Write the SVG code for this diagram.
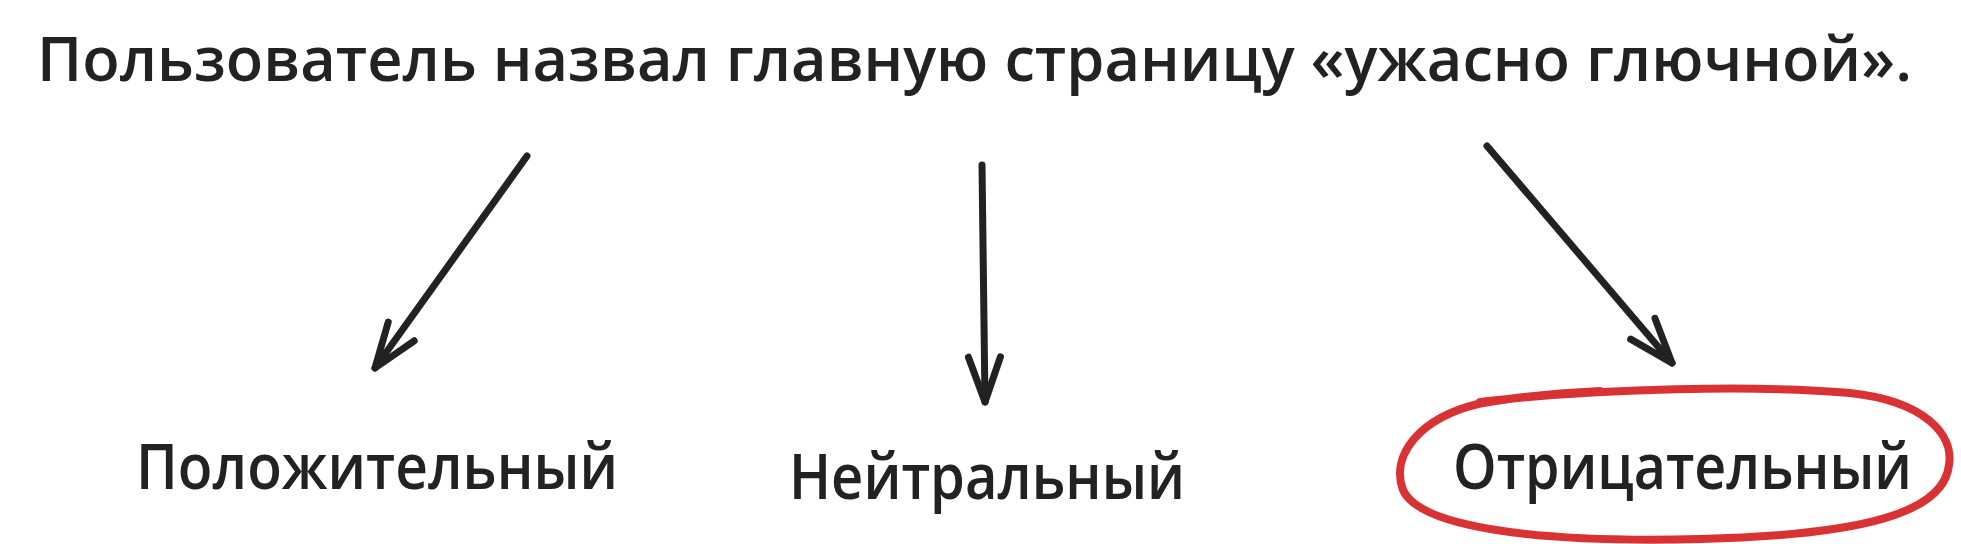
<svg xmlns="http://www.w3.org/2000/svg" width="1961" height="544" viewBox="0 0 1961 544">
  <style>
    .txt { font-family: "Open Sans", "Noto Sans", "DejaVu Sans", sans-serif; font-weight: 600; fill: #222222; }
    .title { font-size: 62px; }
    .label { font-size: 64px; }
    .conn { fill: none; stroke: #222222; stroke-width: 7; stroke-linecap: round; stroke-linejoin: round; }
    .ring { fill: none; stroke: #d93234; stroke-width: 8; stroke-linecap: round; stroke-linejoin: round; }
  </style>
  <defs>
    <marker id="head" markerUnits="userSpaceOnUse" orient="auto" refX="0" refY="0" markerWidth="60" markerHeight="40" overflow="visible">
      <path d="M -45 -16 L 0 0 L -45 16" fill="none" stroke="#222222" stroke-width="7" stroke-linecap="round" stroke-linejoin="round"/>
    </marker>
  </defs>
  <rect width="1961" height="544" fill="#ffffff"/>

  <g id="title">
    <text class="txt title" x="37" y="81" textLength="1875" lengthAdjust="spacingAndGlyphs">Пользователь назвал главную страницу «ужасно глючной».</text>
  </g>

  <g id="connectors">
    <path class="conn" d="M 527 156 L 375 368" marker-end="url(#head)"/>
    <path class="conn" d="M 982 165 L 985 402" marker-end="url(#head)"/>
    <path class="conn" d="M 1487 146 L 1672 363" marker-end="url(#head)"/>
  </g>

  <g id="label-positive">
    <text class="txt label" x="136" y="489" textLength="482" lengthAdjust="spacingAndGlyphs">Положительный</text>
  </g>

  <g id="label-neutral">
    <text class="txt label" x="789" y="499" textLength="396" lengthAdjust="spacingAndGlyphs">Нейтральный</text>
  </g>

  <g id="label-negative">
    <path class="ring" d="M 1480 402 C 1600 388 1760 385 1850 393 C 1924 401 1954 434 1949 465 C 1944 512 1866 535 1700 539 C 1540 543 1420 528 1403 490 C 1390 455 1420 418 1478 404 C 1520 396 1560 393 1600 391"/>
    <text class="txt label" x="1453" y="489" textLength="459" lengthAdjust="spacingAndGlyphs">Отрицательный</text>
  </g>
</svg>
